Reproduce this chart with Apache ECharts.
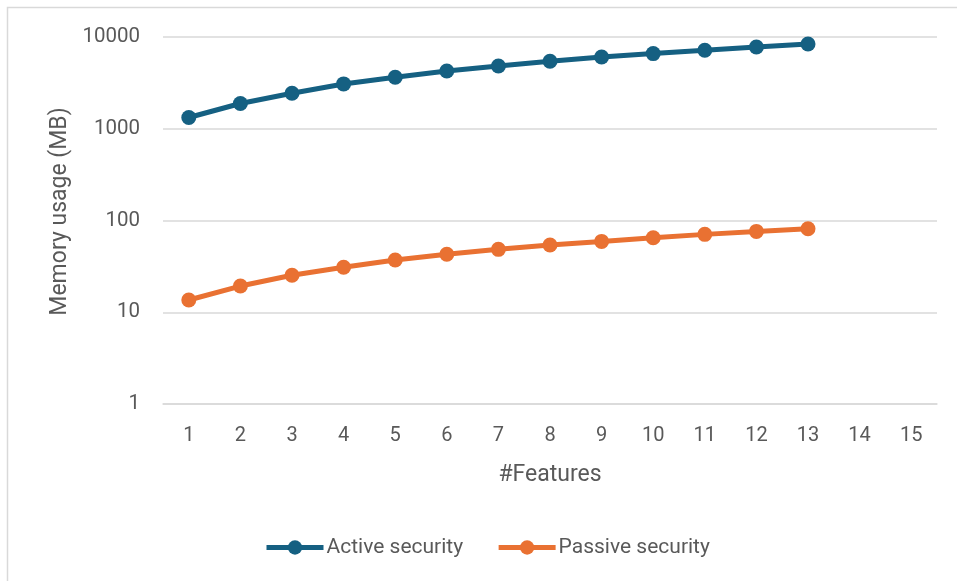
<!DOCTYPE html>
<html>
<head>
<meta charset="utf-8">
<script src="https://cdn.jsdelivr.net/npm/echarts@6/dist/echarts.min.js"></script>
<style>
  html, body { margin: 0; padding: 0; background: #ffffff; }
  #chart { width: 957px; height: 581px; }
</style>
</head>
<body>
<div id="chart"></div>
<script>
// Number of features on the x axis
const features = ['1', '2', '3', '4', '5', '6', '7', '8', '9', '10', '11', '12', '13', '14', '15'];

// Memory usage in MB per configuration
const activeSecurity = [1327, 1884, 2440, 3080, 3644, 4256, 4833, 5440, 6058, 6597, 7166, 7783, 8390];
const passiveSecurity = [13.6, 19.3, 25.3, 30.9, 37.1, 42.8, 48.5, 54.0, 59.2, 64.8, 70.6, 76.1, 81.3];

const seriesNames = ['Active security', 'Passive security'];
const yAxisTitle = 'Memory usage (MB)';
const xAxisTitle = '#Features';

const textColor = '#595959';
const gridColor = '#d9d9d9';
const fontFamily = 'Roboto, "Open Sans", sans-serif';

const chart = echarts.init(document.getElementById('chart'), null, { renderer: 'canvas' });

function lineSeries(name, data, color) {
  return {
    name: name,
    type: 'line',
    data: data,
    symbol: 'circle',
    symbolSize: 15,
    showSymbol: true,
    lineStyle: { color: color, width: 5 },
    itemStyle: { color: color },
    emphasis: { disabled: true },
    z: 3
  };
}

chart.setOption({
  animation: false,
  backgroundColor: '#ffffff',
  textStyle: { fontFamily: fontFamily },
  graphic: [{
    type: 'rect',
    shape: { x: 7.5, y: 7.5, width: 1000, height: 1000 },
    style: { fill: 'none', stroke: gridColor, lineWidth: 1.5 },
    silent: true
  }],
  grid: { left: 163, right: 20, top: 37, bottom: 177, containLabel: false },
  legend: {
    data: seriesNames,
    top: 532,
    left: 259,
    itemWidth: 57,
    itemHeight: 18,
    itemGap: 33,
    lineStyle: { width: 5 },
    textStyle: { color: textColor, fontSize: 21, fontFamily: fontFamily, padding: [0, 0, 0, -2] }
  },
  xAxis: {
    type: 'category',
    data: features,
    boundaryGap: true,
    name: xAxisTitle,
    nameLocation: 'middle',
    nameGap: 60,
    nameTextStyle: { color: textColor, fontSize: 23, fontFamily: fontFamily },
    axisLine: { show: true, lineStyle: { color: gridColor, width: 1.5 } },
    axisTick: { show: false },
    axisLabel: { color: textColor, fontSize: 20, margin: 22, fontFamily: fontFamily },
    splitLine: { show: false }
  },
  yAxis: {
    type: 'log',
    logBase: 10,
    min: 1,
    max: 10000,
    name: yAxisTitle,
    nameLocation: 'middle',
    nameGap: 90,
    nameRotate: 90,
    nameTextStyle: { color: textColor, fontSize: 23, fontFamily: fontFamily, padding: [0, 0, 0, 18] },
    axisLine: { show: false },
    axisTick: { show: false },
    axisLabel: {
      color: textColor, fontSize: 20.5, margin: 23, fontFamily: fontFamily,
      formatter: (v) => String(Math.round(v))
    },
    splitLine: { show: true, lineStyle: { color: gridColor, width: 1.5 } },
    minorSplitLine: { show: false }
  },
  series: [
    lineSeries(seriesNames[0], activeSecurity, '#156082'),
    lineSeries(seriesNames[1], passiveSecurity, '#E97132')
  ]
});
</script>
</body>
</html>
